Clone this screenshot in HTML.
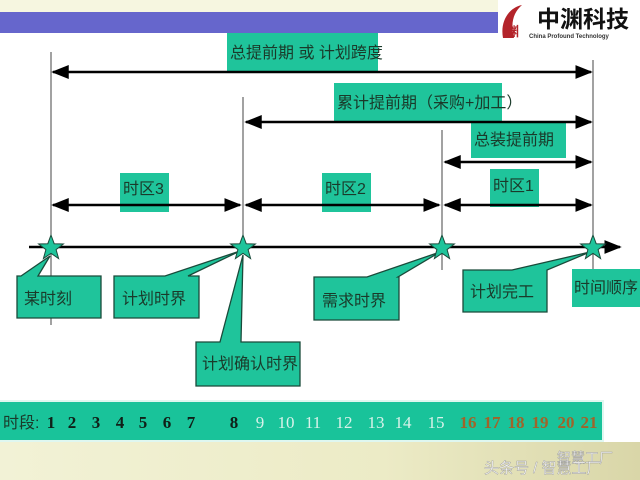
<!DOCTYPE html>
<html><head><meta charset="utf-8"><style>
html,body{margin:0;padding:0;width:640px;height:480px;overflow:hidden;background:#fff}
svg{display:block}
.cj{font-family:"Liberation Sans","Noto Sans CJK SC",sans-serif}
</style></head><body>
<svg width="640" height="480" viewBox="0 0 640 480" xmlns="http://www.w3.org/2000/svg">
<defs>
<linearGradient id="bot" x1="0" y1="0" x2="1" y2="0">
<stop offset="0" stop-color="#f2f2d6"/><stop offset="0.6" stop-color="#ecebc6"/><stop offset="1" stop-color="#d9d6a8"/>
</linearGradient>
<marker id="ah" viewBox="0 0 10 10" refX="9" refY="5" markerWidth="7" markerHeight="7" orient="auto-start-reverse">
<path d="M0,1 L10,5 L0,9 z" fill="#000"/></marker>
</defs>
<rect x="0" y="0" width="640" height="12" fill="#f6f6e0"/>
<rect x="0" y="12" width="498" height="21" fill="#6666cc"/>
<rect x="498" y="0" width="142" height="42" fill="#fff"/>
<!-- logo -->
<path d="M503,38 C500,22 508,8 522,5 C514,12 510,22 514,38 z" fill="#b3242a"/>
<text x="506" y="36" font-size="13" fill="#b3242a" class="cj" font-weight="bold">渊</text>
<text x="537" y="27" font-size="23" fill="#111" class="cj" font-weight="bold">中渊科技</text>
<text x="529" y="38" font-size="6" fill="#333" font-family="Liberation Sans" font-weight="bold">China Profound Technology</text>

<!-- vertical lines -->
<g stroke="#444" stroke-width="1">
<line x1="51" y1="52" x2="51" y2="325"/>
<line x1="243" y1="97" x2="243" y2="250"/>
<line x1="442" y1="130" x2="442" y2="270"/>
<line x1="593" y1="60" x2="593" y2="270"/>
</g>
<!-- label boxes -->
<g fill="#1fc49b">
<rect x="227" y="33" width="151" height="39"/>
<rect x="334" y="83" width="168" height="39"/>
<rect x="471" y="121" width="95" height="37"/>
<rect x="120" y="173" width="49" height="39"/>
<rect x="322" y="173" width="49" height="39"/>
<rect x="490" y="169" width="49" height="38"/>
</g>
<g class="cj" font-size="16" fill="#1a3a2a">
<text x="230" y="58">总提前期 或 计划跨度</text>
<text x="337" y="108">累计提前期（采购+加工）</text>
<text x="474" y="145">总装提前期</text>
<text x="123" y="194">时区3</text>
<text x="325" y="194">时区2</text>
<text x="493" y="191">时区1</text>
</g>
<!-- arrows -->
<g stroke="#000" stroke-width="2.5" marker-start="url(#ah)" marker-end="url(#ah)">
<line x1="53" y1="72" x2="591" y2="72"/>
<line x1="246" y1="122" x2="591" y2="122"/>
<line x1="445" y1="162" x2="591" y2="162"/>
<line x1="53" y1="205" x2="240" y2="205"/>
<line x1="246" y1="205" x2="439" y2="205"/>
<line x1="445" y1="205" x2="591" y2="205"/>
</g>
<line x1="29" y1="247" x2="620" y2="247" stroke="#000" stroke-width="2.5" marker-end="url(#ah)"/>

<!-- callouts -->
<g fill="#1fc49b" stroke="#1a4a3a" stroke-width="1.3">
<path d="M17,276 L21,276 L50,256 L38,276 L101,276 L101,318 L17,318 z"/>
<path d="M114,276 L165,276 L240,251 L188,276 L199,276 L199,318 L114,318 z"/>
<path d="M196,342 L220,342 L243,255 L241,342 L300,342 L300,386 L196,386 z"/>
<path d="M314,277 L367,277 L440,252 L398,277 L399,277 L399,320 L314,320 z"/>
<path d="M463,270 L512,270 L590,252 L547,270 L547,312 L463,312 z"/>
</g>
<rect x="572" y="269" width="68" height="38" fill="#1fc49b"/>
<g class="cj" font-size="16" fill="#1a3a2a">
<text x="24" y="304">某时刻</text>
<text x="122" y="304">计划时界</text>
<text x="322" y="306">需求时界</text>
<text x="470" y="297">计划完工</text>
<text x="574" y="293">时间顺序</text>
<text x="202" y="369">计划确认时界</text>
</g>
<!-- stars -->
<g fill="#1fc49b" stroke="#1a4a3a" stroke-width="1">
<path id="st" d="M0,-13 L3.2,-4.3 L12.4,-4 L5.1,1.6 L7.6,10.5 L0,5.3 L-7.6,10.5 L-5.1,1.6 L-12.4,-4 L-3.2,-4.3 z" transform="translate(51,248)"/>
<path d="M0,-13 L3.2,-4.3 L12.4,-4 L5.1,1.6 L7.6,10.5 L0,5.3 L-7.6,10.5 L-5.1,1.6 L-12.4,-4 L-3.2,-4.3 z" transform="translate(243,248)"/>
<path d="M0,-13 L3.2,-4.3 L12.4,-4 L5.1,1.6 L7.6,10.5 L0,5.3 L-7.6,10.5 L-5.1,1.6 L-12.4,-4 L-3.2,-4.3 z" transform="translate(442,248)"/>
<path d="M0,-13 L3.2,-4.3 L12.4,-4 L5.1,1.6 L7.6,10.5 L0,5.3 L-7.6,10.5 L-5.1,1.6 L-12.4,-4 L-3.2,-4.3 z" transform="translate(593,248)"/>
</g>

<!-- time bar -->
<rect x="0" y="400" width="604" height="42" fill="#dff7f0"/>
<rect x="0" y="402" width="602" height="38" fill="#19c39a"/>
<text x="3" y="428" class="cj" font-size="16" fill="#1a3a2a">时段:</text>
<g font-family="Liberation Serif" font-weight="bold" font-size="17" text-anchor="middle">
<g fill="#102018">
<text x="51" y="428">1</text><text x="72" y="428">2</text><text x="96" y="428">3</text><text x="120" y="428">4</text><text x="143" y="428">5</text><text x="167" y="428">6</text><text x="191" y="428">7</text><text x="234" y="428">8</text>
</g>
<g fill="#d8f2ea" font-weight="normal">
<text x="260" y="428">9</text><text x="286" y="428">10</text><text x="313" y="428">11</text><text x="344" y="428">12</text><text x="376" y="428">13</text><text x="403" y="428">14</text><text x="436" y="428">15</text>
</g>
<g fill="#a0642a">
<text x="468" y="428">16</text><text x="492" y="428">17</text><text x="516" y="428">18</text><text x="540" y="428">19</text><text x="566" y="428">20</text><text x="589" y="428">21</text>
</g>
</g>
<!-- bottom -->
<rect x="0" y="442" width="640" height="38" fill="url(#bot)"/>
<text x="557" y="463" class="cj" font-size="14" fill="#fff" stroke="#999" stroke-width="0.4">智慧工厂</text>
<text x="484" y="473" class="cj" font-size="15" fill="#fff" stroke="#999" stroke-width="0.4">头条号 / 智慧工厂</text>
</svg>
</body></html>
